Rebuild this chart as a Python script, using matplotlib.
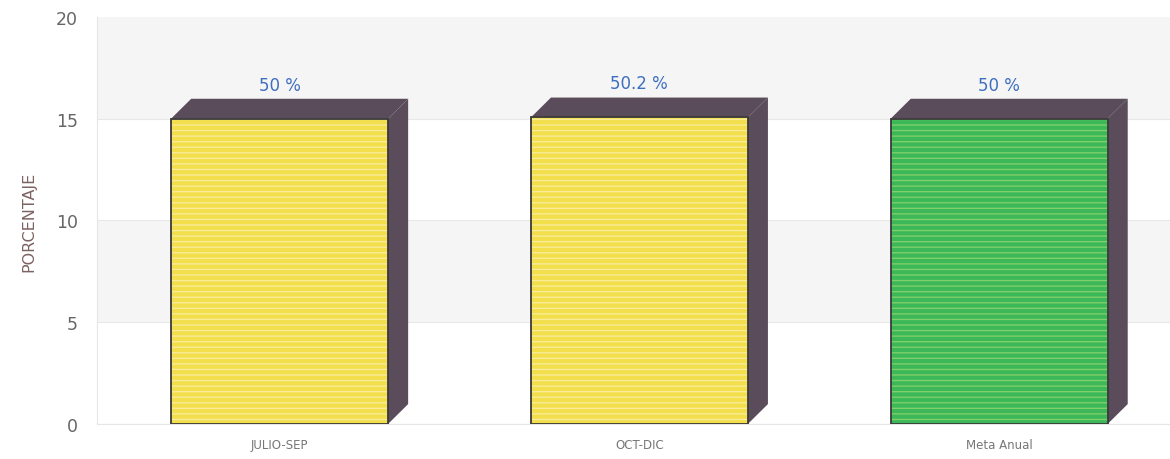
import matplotlib.pyplot as plt
from matplotlib.patches import Polygon

categories = ["JULIO-SEP", "OCT-DIC", "Meta Anual"]
values = [15.0, 15.06, 15.0]
labels = ["50 %", "50.2 %", "50 %"]
colors = ["#f3de4c", "#f3de4c", "#3cb859"]
stripe_colors = ["#f8ec98", "#f8ec98", "#7fcf6a"]

plt.rcParams["font.family"] = ["Verdana", "DejaVu Sans"]

fig = plt.figure(figsize=(11.7, 4.6), dpi=100)
ax = fig.add_axes([0.083, 0.076, 0.917, 0.885])

ax.set_xlim(-0.507, 2.475)
ax.set_ylim(0, 20)

# alternating background bands
for lo in range(0, 20, 5):
    band = "#f5f5f5" if (lo // 5) % 2 == 1 else "#ffffff"
    ax.axhspan(lo, lo + 5, color=band, zorder=0, lw=0)
    ax.axhline(lo, color="#e8e8e8", lw=0.8, zorder=0.5)

width = 0.603
dx = 0.056   # depth of the fake 3D effect, in x units
dy = 0.98    # depth in y units
side = "#5b4c5c"

x = list(range(len(categories)))
# striped fill
bars = ax.bar(x, values, width=width, color=colors, edgecolor=stripe_colors,
              linewidth=0, hatch="---", zorder=3)
# outline
ax.bar(x, values, width=width, fill=False, edgecolor="#3a3a3a",
       linewidth=1.3, zorder=4)

for b, h, lab in zip(bars, values, labels):
    x0 = b.get_x()
    x1 = x0 + b.get_width()
    top = Polygon([(x0, h), (x0 + dx, h + dy), (x1 + dx, h + dy), (x1, h)],
                  closed=True, facecolor=side, edgecolor="none", zorder=2)
    sidef = Polygon([(x1, 0), (x1 + dx, dy), (x1 + dx, h + dy), (x1, h)],
                    closed=True, facecolor=side, edgecolor="none", zorder=2)
    ax.add_patch(top)
    ax.add_patch(sidef)
    ax.text(x0 + b.get_width() / 2, h + dy + 0.25, lab, ha="center",
            va="bottom", fontsize=12, color="#3d6fbf")

ax.set_xticks(x)
ax.set_xticklabels(categories, fontsize=8.5, color="#777777")
ax.set_yticks([0, 5, 10, 15, 20])
ax.set_yticklabels(["0", "5", "10", "15", "20"], fontsize=12.5, color="#666666")
ax.tick_params(axis="both", length=0)
ax.tick_params(axis="y", pad=14)
ax.tick_params(axis="x", pad=10)

ax.set_ylabel("PORCENTAJE", fontsize=11.5, color="#7d6262", labelpad=14)

for s in ["top", "right"]:
    ax.spines[s].set_visible(False)
ax.spines["left"].set_color("#e6e6e6")
ax.spines["bottom"].set_color("#e6e6e6")

fig.savefig("out.png")
